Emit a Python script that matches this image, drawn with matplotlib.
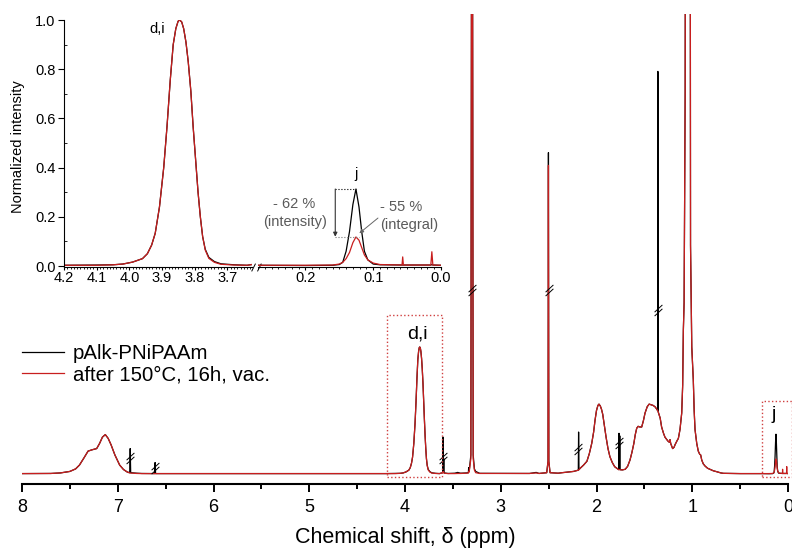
import numpy as np
import matplotlib.pyplot as plt
from matplotlib.path import Path
from matplotlib.ticker import MultipleLocator

plt.rcParams['font.family'] = ['Liberation Sans', 'DejaVu Sans']

# 1H NMR spectra, intensity normalized to the d,i signal at 3.85 ppm
ppm = [8.00, 7.70, 7.60, 7.50, 7.44, 7.40, 7.35, 7.31, 7.27, 7.22, 7.19, 7.16, 7.13, 7.10,
       7.07, 7.03, 6.98, 6.94, 6.90, 6.875, 6.870, 6.865, 6.80, 6.75, 6.615, 6.610, 6.605,
       5.00, 4.20,
       # d,i
       4.10, 4.05, 4.02, 3.99, 3.96, 3.945, 3.932, 3.921, 3.908, 3.895, 3.885, 3.875, 3.866,
       3.858, 3.851, 3.846, 3.840, 3.834, 3.827, 3.820, 3.812, 3.805, 3.798, 3.790, 3.783,
       3.776, 3.768, 3.757, 3.740, 3.720, 3.680, 3.640,
       # 3.6 - 2.2
       3.606, 3.602, 3.599, 3.595, 3.591, 3.55, 3.48, 3.45, 3.42, 3.36, 3.338, 3.335, 3.330,
       3.312, 3.304, 3.296, 3.288, 3.275, 3.262, 3.22, 2.70, 2.63, 2.60, 2.52, 2.506, 2.502,
       2.498, 2.485, 2.40, 2.36, 2.30, 2.24, 2.19, 2.187, 2.183, 2.17,
       # backbone
       2.135, 2.10, 2.075, 2.05, 2.03, 2.015, 2.00, 1.985, 1.974, 1.96, 1.948, 1.935, 1.918,
       1.90, 1.88, 1.86, 1.835, 1.81, 1.78, 1.768, 1.765, 1.761, 1.757, 1.753, 1.73, 1.70,
       1.675, 1.65, 1.63, 1.61, 1.595, 1.58, 1.565, 1.548, 1.528, 1.51, 1.493, 1.47, 1.45,
       1.43, 1.41, 1.39, 1.37, 1.362, 1.359, 1.356, 1.335, 1.32, 1.30, 1.285, 1.255, 1.24,
       1.232, 1.225, 1.205, 1.19, 1.18, 1.16, 1.145, 1.128, 1.11, 1.10, 1.093, 1.085, 1.074,
       1.066, 1.045, 1.024, 1.018, 1.005, 0.989, 0.98, 0.971, 0.953, 0.937, 0.922, 0.912,
       0.901, 0.885, 0.867, 0.84, 0.815, 0.78, 0.745, 0.70, 0.675, 0.50,
       # j
       0.27, 0.20, 0.16, 0.15, 0.145, 0.14, 0.135, 0.130, 0.1255, 0.121, 0.117, 0.113, 0.108,
       0.100, 0.090, 0.060, 0.0575, 0.0565, 0.0555, 0.015, 0.0135, 0.012, 0.00]

pnipaam = [.003, .004, .008, .020, .040, .070, .130, .180, .190, .200, .240, .290, .310, .280,
           .230, .150, .070, .035, .015, .010, .200, .010, .006, .004, .003, .090, .003,
           .003, .003,
           .004, .005, .008, .016, .030, .050, .085, .133, .240, .400, .566, .756, .900,
           .965, .995, 1.000, .992, .965, .910, .830, .710, .566, .440, .300, .200,
           .120, .068, .035, .018, .009, .005, .003,
           .010, .290, .030, .120, .008, .004, .006, .012, .006, .008, .010, .050, .020,
           .150, 5.0, 5.0, .150, .040, .020, .005, .004, .012, .004, .010, .100, 2.53,
           .100, .010, .006, .010, .015, .020, .030, .330, .034, .045,
           .070, .100, .160, .240, .330, .425, .500, .540, .550, .535, .510, .470, .380,
           .290, .200, .136, .090, .057, .040, .034, .320, .036, .300, .034, .032, .037,
           .060, .110, .170, .240, .310, .360, .375, .370, .370, .420, .480, .530, .550,
           .545, .540, .530, .510, .500, 3.17, .490, .440, .370, .320, .290, .260, .250,
           .270, .240, .200, .210, .230, .260, .280, .350, .480, .700, 1.13, 1.35, 3.0,
           8.0, 9.0, 8.0, 1.80, 1.00, .740, .500, .350, .240, .180, .155, .150,
           .110, .080, .063, .045, .037, .025, .018, .008, .005, .003,
           .003, .002, .003, .006, .015, .060, .140, .250, .313, .240, .140, .060, .025,
           .008, .005, .004, .004, .004, .004, .004, .006, .004, .003]

heated = [.003, .004, .008, .020, .040, .070, .130, .180, .190, .200, .240, .290, .310, .280,
          .230, .150, .070, .035, .015, .008, .008, .007, .004, .003, .003, .003, .003,
          .003, .003,
          .003, .005, .008, .016, .030, .050, .085, .133, .240, .400, .566, .756, .900,
          .965, .995, 1.000, .992, .965, .910, .830, .710, .566, .440, .300, .200,
          .120, .065, .031, .015, .007, .004, .003,
          .010, .020, .015, .012, .006, .003, .003, .004, .004, .006, .008, .020, .015,
          .120, 5.0, 5.0, .120, .030, .010, .004, .004, .008, .004, .010, .100, 2.43,
          .100, .010, .006, .010, .015, .020, .030, .032, .034, .045,
          .070, .100, .160, .240, .330, .425, .500, .540, .550, .535, .510, .470, .380,
          .290, .200, .136, .090, .057, .040, .034, .034, .035, .034, .033, .032, .037,
          .060, .110, .170, .240, .310, .360, .375, .370, .370, .420, .480, .530, .550,
          .545, .540, .530, .510, .500, .495, .490, .440, .370, .320, .290, .260, .250,
          .270, .240, .200, .210, .230, .260, .280, .350, .480, .700, 1.13, 1.35, 3.0,
          8.0, 9.0, 8.0, 1.80, 1.00, .740, .500, .350, .240, .180, .155, .150,
          .110, .080, .063, .045, .037, .025, .018, .008, .005, .003,
          .003, .003, .004, .008, .015, .030, .055, .095, .118, .105, .075, .045, .025,
          .012, .006, .004, .004, .037, .004, .004, .058, .004, .003]

labels = ['pAlk-PNiPAAm', 'after 150°C, 16h, vac.']

# truncated (scaled) signals of the untreated polymer
brk_ppm = [6.87, 6.61, 3.60, 3.30, 2.50, 2.19, 1.76, 1.36]
brk_y = [0.126, 0.047, 0.126, 1.45, 1.45, 0.20, 0.24, 1.29]

RED = '#c81e1e'

fig = plt.figure(figsize=(7.92, 5.5), dpi=100)
ax = fig.add_axes([22/792, 66/550, 766/792, 470/550])
ax.plot(ppm, pnipaam, color='black', lw=0.9, label=labels[0])
ax.plot(ppm, heated, color=RED, lw=0.9, label=labels[1])
ax.set_xlim(8, 0)
ax.set_ylim(-0.079, 3.622)

for s in ['left', 'right', 'top']:
    ax.spines[s].set_visible(False)
ax.spines['bottom'].set_linewidth(1.5)
ax.set_yticks([])
ax.xaxis.set_major_locator(MultipleLocator(1))
ax.xaxis.set_minor_locator(MultipleLocator(0.5))
ax.tick_params(axis='x', which='major', length=6, width=1.4, labelsize=13, pad=5)
ax.tick_params(axis='x', which='minor', length=3.5, width=1.4)
ax.set_xlabel('Chemical shift, δ (ppm)', fontsize=15.5, labelpad=8)

# "//" marks on the cut peaks
slash2 = Path([(-0.7, -1.0), (0.7, 0.3), (-0.7, -0.3), (0.7, 1.0)],
              [Path.MOVETO, Path.LINETO, Path.MOVETO, Path.LINETO])
ax.plot(brk_ppm, brk_y, ls='none', marker=slash2, ms=8, mec='black', mew=0.7)

# regions shown in the inset
ax.plot([4.19, 3.617, 3.617, 4.19, 4.19], [-0.02, -0.02, 1.25, 1.25, -0.02],
        ls=':', color='#d04040', lw=1)
ax.plot([0.275, -0.038, -0.038, 0.275, 0.275], [-0.02, -0.02, 0.577, 0.577, -0.02],
        ls=':', color='#d04040', lw=1, clip_on=False)
ax.text(3.87, 1.07, 'd,i', ha='center', va='baseline', fontsize=14)
ax.text(0.153, 0.435, 'j', ha='center', va='baseline', fontsize=14)

ax.legend(loc='upper left', bbox_to_anchor=(22/792, 206/550), bbox_transform=fig.transFigure,
          frameon=False, fontsize=14.7, handlelength=2.05, handletextpad=0.45,
          borderpad=0, borderaxespad=0, labelspacing=0.1)

# inset with broken x axis
h = 1.004 * 246 / 550
inL = fig.add_axes([64/792, 283/550, 188/792, h], facecolor='none')
inR = fig.add_axes([258/792, 283/550, 183/792, h], facecolor='none')
for a in (inL, inR):
    a.plot(ppm, pnipaam, color='black', lw=0.9)
    a.plot(ppm, heated, color=RED, lw=0.9)
    a.set_ylim(-0.004, 1.0)
    a.spines['top'].set_visible(False)
    a.spines['right'].set_visible(False)
    a.xaxis.set_major_locator(MultipleLocator(0.1))
    a.xaxis.set_minor_locator(MultipleLocator(0.01))
    a.xaxis.set_major_formatter('{x:.1f}')
    a.tick_params(axis='x', which='major', length=2.5, width=0.8, labelsize=10.5, pad=0.5)
    a.tick_params(axis='x', which='minor', length=1.5, width=0.6)
inL.set_xlim(4.2, 3.625)
inR.set_xlim(0.27, 0.0)
inR.spines['left'].set_visible(False)
inR.set_yticks([])
inL.yaxis.set_major_locator(MultipleLocator(0.2))
inL.yaxis.set_minor_locator(MultipleLocator(0.1))
inL.yaxis.set_major_formatter('{x:.1f}')
inL.tick_params(axis='y', which='major', length=4, width=0.8, labelsize=10.5, pad=2)
inL.tick_params(axis='y', which='minor', length=2.5, width=0.6, direction='in')
fig.text(18/792, 0.7336, 'Normalized intensity', rotation=90, ha='center', va='center',
         fontsize=10.5)

slash_h = Path([(-1.0, -0.8), (-0.2, 0.8), (0.2, -0.8), (1.0, 0.8)],
               [Path.MOVETO, Path.LINETO, Path.MOVETO, Path.LINETO])
inL.plot([3.614], [-0.004], ls='none', marker=slash_h, ms=7, mec='black', mew=0.7,
         clip_on=False)

inL.text(3.915, 0.946, 'd,i', ha='center', va='baseline', fontsize=10.5)
inR.text(0.1255, 0.359, 'j', ha='center', va='baseline', fontsize=10.5)
GREY = '#5a5a5a'
inR.text(0.217, 0.234, '- 62 %', ha='center', va='baseline', fontsize=10.5, color=GREY,
         clip_on=False)
inR.text(0.2155, 0.164, '(intensity)', ha='center', va='baseline', fontsize=10.5,
         color=GREY, clip_on=False)
inR.text(0.059, 0.225, '- 55 %', ha='center', va='baseline', fontsize=10.5, color=GREY)
inR.text(0.047, 0.150, '(integral)', ha='center', va='baseline', fontsize=10.5, color=GREY)
inR.plot([0.156, 0.1255], [0.313, 0.313], ls=':', color='black', lw=0.8)
inR.plot([0.156, 0.121], [0.119, 0.119], ls=':', color='#777777', lw=0.8)
inR.annotate('', xy=(0.156, 0.119), xytext=(0.156, 0.313),
             arrowprops=dict(arrowstyle='-|>', color='#333333', lw=0.8,
                             mutation_scale=6, shrinkA=0, shrinkB=0))
inR.annotate('', xy=(0.1205, 0.133), xytext=(0.093, 0.195),
             arrowprops=dict(arrowstyle='-|>', color='#666666', lw=0.7,
                             mutation_scale=6, shrinkA=0, shrinkB=0))

plt.savefig('out.png', dpi=100)
plt.close('all')
